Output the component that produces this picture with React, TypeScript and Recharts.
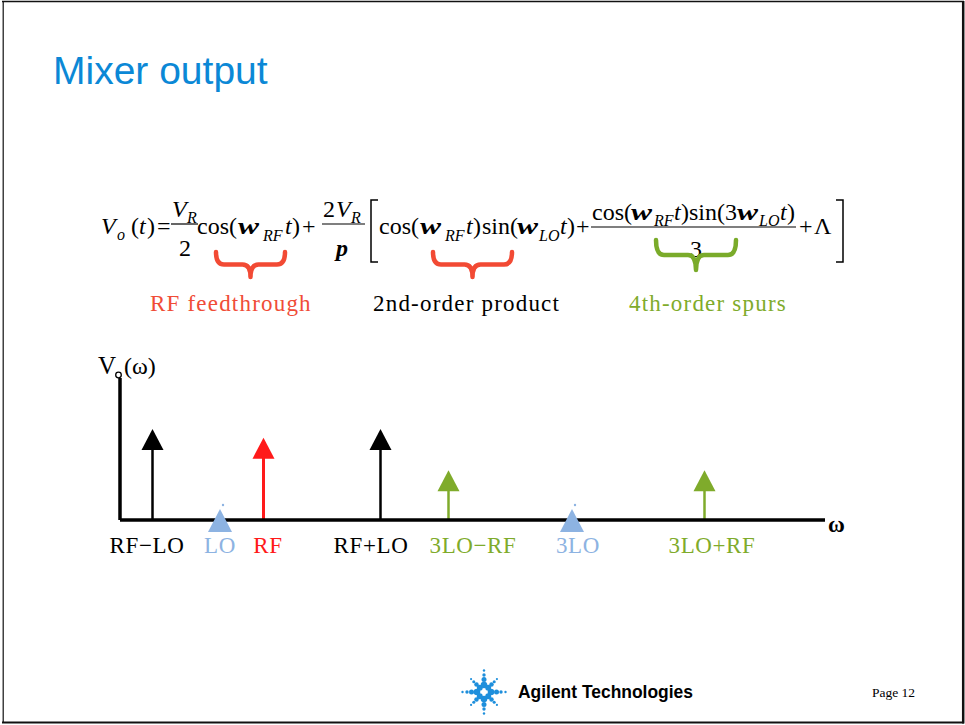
import React from 'react';
import { ComposedChart, Bar, Scatter, XAxis, YAxis } from 'recharts';

// spectrum lines of the mixer output
const labels = ['RF−LO', 'LO', 'RF', 'RF+LO', '3LO−RF', '3LO', '3LO+RF'];
const omega = [3.2, 10.0, 14.3, 26.0, 32.8, 45.2, 58.4];
const amplitude = [6.4, 0, 5.8, 6.4, 3.5, 0, 3.5];
const kinds = ['product', 'lo', 'rf', 'product', 'spur', 'lo', 'spur'];

const COLORS: Record<string, string> = {
  product: '#000000',
  lo: '#8db3e2',
  rf: '#ff1a1a',
  spur: '#7fab2b',
};
const LABEL_DX = [-5, 0, 5, -9, 25, 6, 8];

const rows = omega.map((w, i) => ({
  omega: w,
  amp: kinds[i] === 'lo' ? null : amplitude[i],
  kind: kinds[i],
}));
const loRows = omega
  .map((w, i) => ({ omega: w, level: amplitude[i], kind: kinds[i] }))
  .filter((r) => r.kind === 'lo');

const SERIF = '"Liberation Serif", "Times New Roman", serif';

function Arrow(props: any) {
  const { x, y, width, height, payload } = props;
  if (!payload || payload.amp == null || !height) return <g />;
  const cx = x + width / 2;
  const base = y + height;
  const headH = 21;
  const headW = 11;
  const color = COLORS[payload.kind];
  return (
    <g>
      <line x1={cx} x2={cx} y1={y + headH - 1} y2={base} stroke={color} strokeWidth={payload.kind === 'rf' ? 3 : 2.5} />
      <polygon points={`${cx},${y} ${cx - headW},${y + headH} ${cx + headW},${y + headH}`} fill={color} />
    </g>
  );
}

function LoMarker(props: any) {
  const { cx, cy } = props;
  const color = COLORS.lo;
  return (
    <g>
      <polygon points={`${cx},${cy - 11} ${cx - 12},${cy + 12} ${cx + 12},${cy + 12}`} fill={color} />
      <circle cx={cx + 3} cy={cy - 15} r={1.2} fill={color} />
    </g>
  );
}

function SpectrumTick(props: any) {
  const { x, payload } = props;
  const i = omega.indexOf(payload.value);
  if (i < 0) return <g />;
  return (
    <text x={x + LABEL_DX[i]} y={553} textAnchor="middle" fontFamily={SERIF} fontSize={23} letterSpacing={0.6} fill={COLORS[kinds[i]]}>
      {labels[i]}
    </text>
  );
}

type Piece = [string, number, number, 'n' | 'i' | 'b' | 's'];
const EQ: Piece[] = [
  ['V', 101, 234, 'i'], ['o', 117, 240, 's'], ['(', 131, 234, 'n'], ['t', 139, 234, 'i'], [')', 147, 234, 'n'], ['=', 157, 234, 'n'],
  ['V', 172, 217, 'i'], ['R', 187, 223, 's'], ['2', 179, 256, 'n'],
  ['cos(', 197, 234, 'n'], ['w', 238, 234, 'b'], ['RF', 263, 241, 's'], ['t', 285, 234, 'i'], [')', 292, 234, 'n'], ['+', 302, 234, 'n'],
  ['2', 323, 217, 'n'], ['V', 336, 217, 'i'], ['R', 351, 223, 's'], ['p', 336, 256, 'b'],
  ['cos(', 379, 234, 'n'], ['w', 420, 234, 'b'], ['RF', 445, 241, 's'], ['t', 466, 234, 'i'], [')', 473, 234, 'n'],
  ['sin(', 482, 234, 'n'], ['w', 517, 234, 'b'], ['LO', 539, 241, 's'], ['t', 560, 234, 'i'], [')', 567, 234, 'n'], ['+', 576, 234, 'n'],
  ['cos(', 592, 220, 'n'], ['w', 631, 220, 'b'], ['RF', 654, 226, 's'], ['t', 674, 220, 'i'], [')', 681, 220, 'n'],
  ['sin(3', 689, 220, 'n'], ['w', 737, 220, 'b'], ['LO', 759, 226, 's'], ['t', 780, 220, 'i'], [')', 787, 220, 'n'],
  ['3', 690, 257, 'n'],
  ['+', 799, 234, 'n'], ['Λ', 814, 234, 'n'],
];

function brace(x1: number, x2: number, top: number, bottom: number) {
  const mid = (x1 + x2) / 2;
  const hy = top + (bottom - top) * 0.5;
  const r = 8;
  return `M${x1},${top} Q${x1},${hy} ${x1 + r},${hy} L${mid - r},${hy} Q${mid},${hy} ${mid},${bottom} Q${mid},${hy} ${mid + r},${hy} L${x2 - r},${hy} Q${x2},${hy} ${x2},${top}`;
}

function Logo({ cx, cy }: { cx: number; cy: number }) {
  const dots: React.ReactNode[] = [];
  const radii = [7, 12.5, 17, 21.5];
  const sizes = [3.3, 2.5, 1.7, 1.2];
  for (let k = 0; k < 8; k++) {
    const a = (k * Math.PI) / 4;
    const diag = k % 2 === 1 ? 0.85 : 1;
    radii.forEach((rr, j) => {
      dots.push(
        <circle key={`${k}-${j}`} cx={cx + Math.cos(a) * rr * diag} cy={cy + Math.sin(a) * rr * diag} r={sizes[j] * (diag < 1 ? 0.9 : 1)} fill="#1e8fdc" />
      );
    });
  }
  return <g>{dots}</g>;
}

const labelStyle = { fontFamily: SERIF, fontSize: 23, letterSpacing: 1.2 };

export default function App() {
  return (
    <div style={{ position: 'absolute', left: 0, top: 0, width: 965, height: 725, background: '#fff', overflow: 'hidden' }}>
      <div style={{ position: 'absolute', left: 0, top: 0 }}>
        <ComposedChart width={965} height={725} data={rows} margin={{ top: 378, right: 140, bottom: 175, left: 60 }}>
          <XAxis
            type="number"
            dataKey="omega"
            domain={[0, 70.5]}
            ticks={omega}
            interval={0}
            height={30}
            tickLine={false}
            axisLine={{ stroke: '#000', strokeWidth: 3.5 }}
            tick={<SpectrumTick />}
          />
          <YAxis type="number" domain={[0, 10]} width={60} tick={false} tickLine={false} axisLine={{ stroke: '#000', strokeWidth: 3.5 }} />
          <Bar dataKey="amp" barSize={22} shape={<Arrow />} isAnimationActive={false} />
          <Scatter data={loRows} dataKey="level" shape={<LoMarker />} isAnimationActive={false} />
        </ComposedChart>
      </div>
      <svg width={965} height={725} style={{ position: 'absolute', left: 0, top: 0, pointerEvents: 'none' }}>
        {/* slide frame */}
        <line x1={2} x2={964} y1={1.5} y2={1.5} stroke="#111" strokeWidth={1.5} />
        <line x1={3.2} x2={3.2} y1={1} y2={723} stroke="#111" strokeWidth={1.2} />
        <line x1={963.2} x2={963.2} y1={1} y2={723.5} stroke="#111" strokeWidth={2.5} />
        <line x1={2} x2={964} y1={722.5} y2={722.5} stroke="#111" strokeWidth={1.8} />

        <text x={53} y={84} fontFamily='"Liberation Sans", Arial, sans-serif' fontSize={39} fill="#0b88d6">
          Mixer output
        </text>

        {/* equation */}
        {EQ.map(([t, x, y, v], i) => (
          <text
            key={i}
            x={x}
            y={y}
            fontFamily={SERIF}
            fontSize={v === 's' ? 16 : 24}
            fontStyle={v === 'n' ? 'normal' : 'italic'}
            fontWeight={v === 'b' ? 'bold' : 'normal'}
            textLength={t === 'w' ? 21 : undefined}
            lengthAdjust={t === 'w' ? 'spacingAndGlyphs' : undefined}
            fill="#000"
          >
            {t}
          </text>
        ))}
        <line x1={171} x2={198} y1={224} y2={224} stroke="#000" strokeWidth={1.2} />
        <line x1={322} x2={365} y1={224} y2={224} stroke="#000" strokeWidth={1.2} />
        <line x1={591} x2={796} y1={227} y2={227} stroke="#000" strokeWidth={1.2} />
        <path d="M378,200 L371,200 L371,262 L378,262" fill="none" stroke="#000" strokeWidth={1.5} />
        <path d="M836,200 L843,200 L843,262 L836,262" fill="none" stroke="#000" strokeWidth={1.5} />

        <path d={brace(216, 285, 252, 277)} fill="none" stroke="#f24a34" strokeWidth={4.5} strokeLinecap="round" strokeLinejoin="round" />
        <path d={brace(433, 512, 252, 277)} fill="none" stroke="#f24a34" strokeWidth={4.5} strokeLinecap="round" strokeLinejoin="round" />
        <path d={brace(656, 736, 240, 270)} fill="none" stroke="#7aab2a" strokeWidth={4.5} strokeLinecap="round" strokeLinejoin="round" />

        <text x={150} y={311} {...labelStyle} fill="#f04c37">RF feedthrough</text>
        <text x={373} y={311} {...labelStyle} fill="#000">2nd-order product</text>
        <text x={629} y={311} {...labelStyle} fill="#7fab2b">4th-order spurs</text>

        {/* axis titles */}
        <text x={98} y={374} fontFamily={SERIF} fontSize={25} fill="#000">V</text>
        <circle cx={118.5} cy={375} r={2.8} fill="#fff" stroke="#000" strokeWidth={1.3} />
        <text x={124} y={374} fontFamily={SERIF} fontSize={24} fill="#000">(ω)</text>
        <text x={828} y={532} fontFamily={SERIF} fontSize={23} fontWeight="bold" fill="#000">ω</text>

        {/* footer */}
        <Logo cx={484} cy={692} />
        <text x={518} y={698} fontFamily='"Liberation Sans", Arial, sans-serif' fontWeight="bold" fontSize={18} textLength={175} lengthAdjust="spacingAndGlyphs" fill="#000">
          Agilent Technologies
        </text>
        <text x={872} y={697} fontFamily={SERIF} fontSize={13.5} fill="#000">Page 12</text>
      </svg>
    </div>
  );
}
